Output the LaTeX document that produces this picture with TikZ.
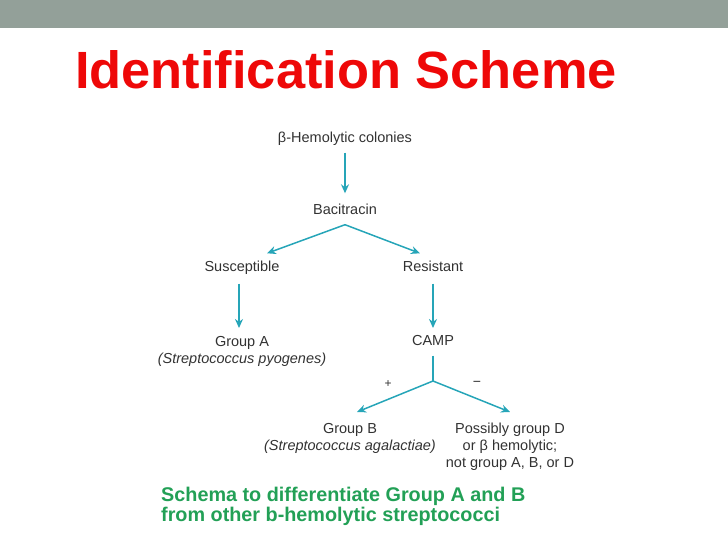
\documentclass[tikz,border=0pt]{standalone}
\usepackage{fontspec}
\setmainfont{Liberation Sans}
\usetikzlibrary{arrows.meta}
\definecolor{bargray}{RGB}{147,160,153}
\definecolor{titlered}{RGB}{238,8,8}
\definecolor{notegreen}{RGB}{34,160,86}
\definecolor{flowteal}{RGB}{38,165,184}
\definecolor{txtgray}{RGB}{50,50,50}
\begin{document}
\begin{tikzpicture}[x=1pt,y=-1pt,>={Stealth[length=9pt,width=8pt]},
  lbl/.style={inner xsep=2pt,inner ysep=7pt,text=txtgray,
    text height=10pt,text depth=3pt,font=\fontsize{14.5}{17}\selectfont},
  lblmulti/.style={anchor=north,inner xsep=2pt,inner ysep=7pt,text=txtgray,
    align=center,font=\fontsize{14.5}{17}\selectfont},
  arr/.style={->,flowteal,line width=1.5pt}]
  \useasboundingbox (0,0) rectangle (728,546);
  \fill[bargray] (0,0) rectangle (728,28);
  \node[anchor=base west,inner sep=0,text=titlered,
    font=\fontsize{52.4}{60}\selectfont\bfseries] (title) at (75,88) {Identification Scheme};
  % flow chart
  \node[lbl] (col) at (345,139) {β-Hemolytic colonies};
  \node[lbl] (bac) at (345,211) {Bacitracin};
  \node[lbl] (sus) at (242,268) {Susceptible};
  \node[lbl] (res) at (433,268) {Resistant};
  \node[lblmulti] (grpA) at (242,329) {Group A\\\textit{(Streptococcus pyogenes)}};
  \node[lbl] (camp) at (433,342) {CAMP};
  \coordinate (fork) at (433,381);
  \node[lblmulti] (grpB) at (350,416) {Group B\\\textit{(Streptococcus agalactiae)}};
  \node[lblmulti] (posD) at (510,416) {Possibly group D\\or β hemolytic;\\not group A, B, or D};
  \draw[arr,shorten >=4pt] (col.south) -- (bac.north);
  \draw[arr] (bac.south) -- ([xshift=25pt,yshift=1pt]sus.north);
  \draw[arr] (bac.south) -- ([xshift=-13pt,yshift=1pt]res.north);
  \draw[arr,shorten <=2pt] ([xshift=-3pt]sus.south) -- ([xshift=-3pt,yshift=1pt]grpA.north);
  \draw[arr,shorten <=2pt] (res.south) -- ([yshift=1pt]res.south |- grpA.north);
  \draw[flowteal,line width=1.5pt] (camp.south) -- (fork);
  \draw[arr] (fork) -- ([xshift=7pt,yshift=4pt]grpB.north);
  \draw[arr] (fork) -- ([yshift=4pt]posD.north);
  \node[text=txtgray,font=\fontsize{12}{12}\selectfont] (plus) at (388,384) {+};
  \node[text=txtgray,font=\fontsize{14}{14}\selectfont] (minus) at (477,384) {−};
  % note
  \node[anchor=base west,inner sep=0,align=left,text=notegreen,
    font=\fontsize{19.8}{19.5}\selectfont\bfseries] (note) at (161,521)
    {Schema to differentiate Group A and B\\from other b-hemolytic streptococci};
\end{tikzpicture}
\end{document}
